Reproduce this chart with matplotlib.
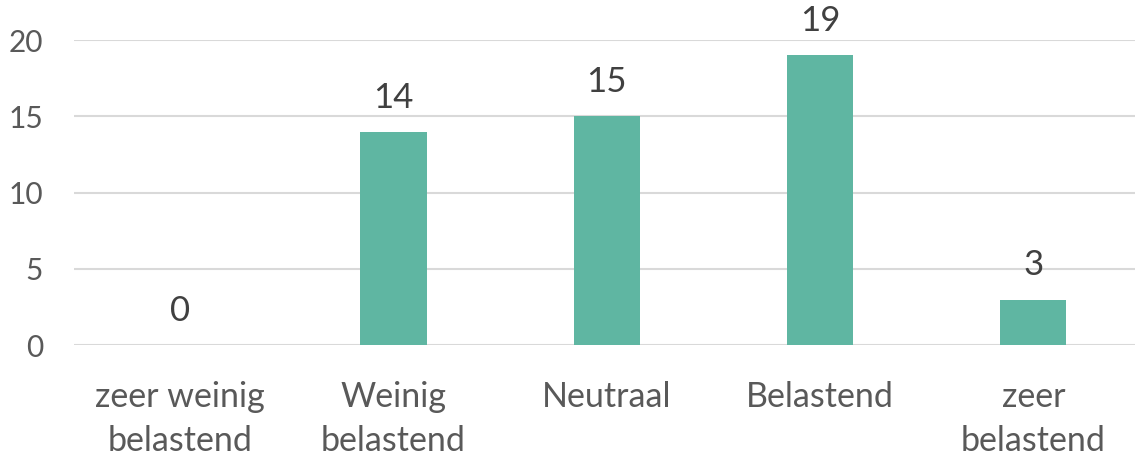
import matplotlib
matplotlib.use("Agg")
import matplotlib.pyplot as plt

categories = ["zeer weinig\nbelastend", "Weinig\nbelastend", "Neutraal", "Belastend", "zeer\nbelastend"]
values = [0, 14, 15, 19, 3]
yticks = [0, 5, 10, 15, 20]

plt.rcParams['font.family'] = ['Lato', 'DejaVu Sans']

W, H = 1135, 455
fig = plt.figure(figsize=(W / 100, H / 100), dpi=100)
left, right = 73.6, 1140.0
top, bottom = 40.0, 345.3
ax = fig.add_axes([left / W, (H - bottom) / H, (right - left) / W, (bottom - top) / H])

x = list(range(len(categories)))
bars = ax.bar(x, values, width=0.31, color="#5FB6A2", zorder=3)

ax.set_xlim(-0.5, len(categories) - 0.5)
ax.set_ylim(0, 20)
ax.set_yticks(yticks)
ax.set_yticklabels([str(t) for t in yticks])
ax.yaxis.grid(True, color="#D9D9D9", linewidth=1.5, zorder=0)
ax.set_axisbelow(True)
for s in ax.spines.values():
    s.set_visible(False)

ax.set_xticks(x)
ax.set_xticklabels(categories, fontsize=24.5, color="#595959", linespacing=1.45)
ax.tick_params(axis='x', length=0, pad=26)
ax.tick_params(axis='y', length=0, pad=22, labelsize=21.5, labelcolor="#595959")

for xi, v in zip(x, values):
    ax.annotate(str(v), (xi, v), xytext=(0, 13), textcoords="offset points",
                ha="center", va="bottom", fontsize=25, color="#404040",
                annotation_clip=False)

fig.savefig("out.png", dpi=100)
